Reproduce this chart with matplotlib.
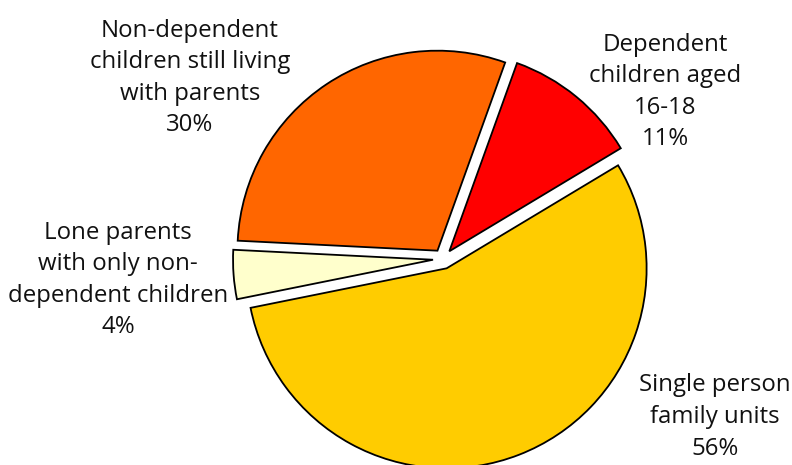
import matplotlib.pyplot as plt
import numpy as np

plt.rcParams['font.family'] = ['Open Sans', 'DejaVu Sans']

# share of young adults by family type
labels = ["Dependent\nchildren aged\n16-18",
          "Non-dependent\nchildren still living\nwith parents",
          "Lone parents\nwith only non-\ndependent children",
          "Single person\nfamily units"]
shares = [11, 30, 4, 56]
colours = ["#FF0000", "#FF6600", "#FFFFCC", "#FFCC00"]

# where each label block sits (pie radius = 1)
label_pos = [(1.11, 0.835), (-1.265, 0.905), (-1.625, -0.105), (1.36, -0.79)]

fig = plt.figure(figsize=(7.92, 4.65), dpi=100)
ax = fig.add_axes([0, 0, 1, 1])

wedges, _ = ax.pie(shares, colors=colours, startangle=31, counterclock=True,
                   explode=[0.05] * len(shares), radius=1.0,
                   wedgeprops=dict(edgecolor="black", linewidth=1.3))

for lab, val, (x, y) in zip(labels, shares, label_pos):
    ax.text(x, y, f"{lab}\n{val}%", ha="center", va="center",
            multialignment="center", fontsize=17.3, linespacing=1.42,
            color="#111111")

# pixel scale: ~200 px per unit, pie centre at (443, 259)
s = 200.0
ax.set_xlim(-443 / s, (792 - 443) / s)
ax.set_ylim(-(465 - 259) / s, 259 / s)
ax.set_aspect("equal")
ax.axis("off")

fig.savefig("out.png", dpi=100, facecolor="white")
